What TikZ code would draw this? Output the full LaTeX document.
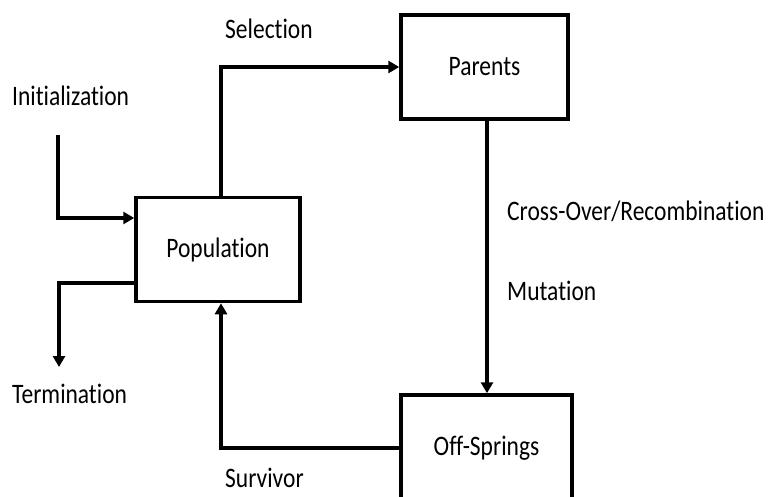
\documentclass[tikz,border=0pt]{standalone}
\usepackage{fontspec}
\setmainfont{Carlito}[Ligatures=NoCommon]
\usetikzlibrary{arrows.meta,positioning}

\tikzset{
  stage/.style={draw,line width=3.5pt,minimum width=164pt,minimum height=104pt,inner sep=0pt},
  flow/.style={line width=3.5pt,-{Triangle[width=12pt,length=11pt]}},
  lbl/.style={inner sep=0pt,font=\fontsize{23.5}{26}\selectfont}
}
\newcommand{\tall}[1]{\scalebox{1}[1.2]{#1}}

\begin{document}
\begin{tikzpicture}[x=1pt,y=-1pt]
	\clip (0,0) rectangle (769,496);
	% boxes
	\node[stage,lbl] (pop) at (218,249.5) {\tall{Population}};
	\node[stage,lbl,minimum width=167pt] (par) at (484.5,67) {\tall{Parents}};
	\node[stage,lbl,minimum width=171pt,minimum height=106pt] (off) at (486.5,448) {\tall{Off-Springs}};
	% free ends
	\coordinate (init) at (58,135);
	\coordinate (term) at (59,367);
	\coordinate (popin) at ([yshift=31.5pt]pop.west);
	\coordinate (popout) at ([yshift=-33.5pt]pop.west);
	% connectors
	\draw[flow] ([xshift=3pt]pop.north) |- (par.west);
	\draw[flow] ([xshift=2.5pt]par.south) -- ([xshift=0.5pt]off.north);
	\draw[flow] (off.west) -| ([xshift=3pt]pop.south);
	\draw[flow] (init) |- (popin);
	\draw[flow] (popout) -| (term);
	% labels
	\node[lbl,anchor=base west] (sel) at (225,38) {\tall{Selection}};
	\node[lbl,anchor=base west] (ini) at (12,105) {\tall{Initialization}};
	\node[lbl,anchor=base west] (ter) at (12,403) {\tall{Termination}};
	\node[lbl,anchor=base west] (cro) at (507,220) {\tall{Cross-Over/Recombination}};
	\node[lbl,anchor=base west] (mut) at (507,300) {\tall{Mutation}};
	\node[lbl,anchor=base west] (sur) at (225,487) {\tall{Survivor}};
\end{tikzpicture}
\end{document}
